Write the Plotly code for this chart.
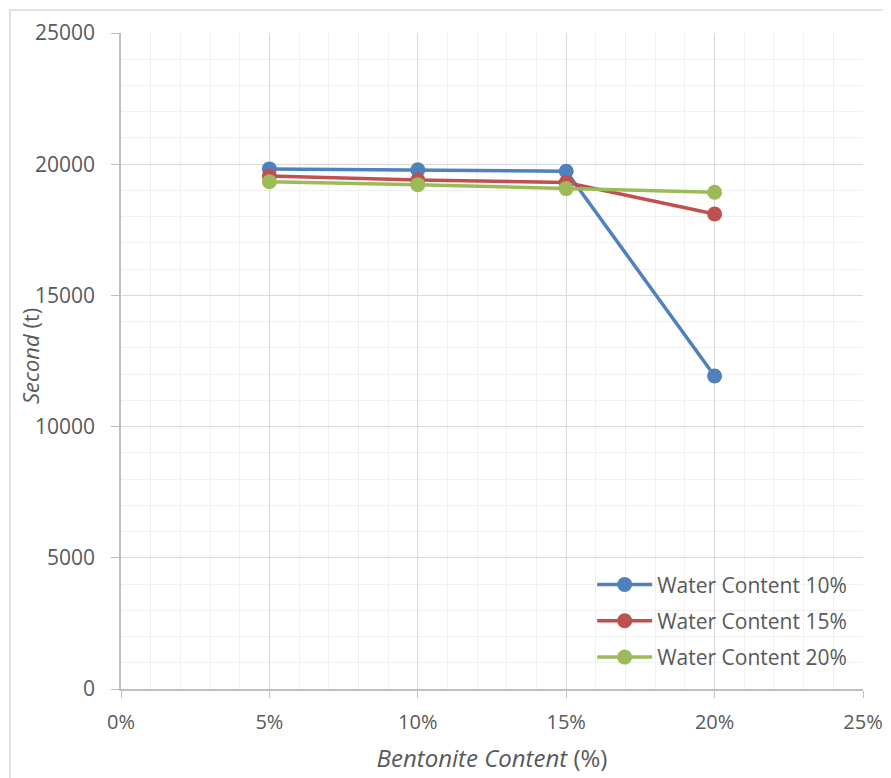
import plotly.graph_objects as go

bentonite = [5, 10, 15, 20]
series_names = ["Water Content 10%", "Water Content 15%", "Water Content 20%"]
wc10 = [19820, 19790, 19730, 11930]
wc15 = [19550, 19400, 19300, 18100]
wc20 = [19330, 19220, 19070, 18930]
colors = ["#4F81BD", "#C0504D", "#9BBB59"]
x_ticks = [0, 5, 10, 15, 20, 25]
y_ticks = [0, 5000, 10000, 15000, 20000, 25000]

font_fam = "Open Sans, Liberation Sans, sans-serif"
txt = "#595959"

fig = go.Figure()
for i, (name, vals) in enumerate(zip(series_names, [wc10, wc15, wc20])):
    fig.add_trace(go.Scatter(
        x=bentonite, y=vals, name=name, mode="lines+markers",
        line=dict(color=colors[i], width=3.5),
        marker=dict(color=colors[i], size=15),
        legendgroup=str(i),
    ))

fig.update_layout(
    width=883, height=770,
    margin=dict(l=113, r=28, t=25, b=89),
    paper_bgcolor="white", plot_bgcolor="white",
    font=dict(family=font_fam, size=20, color=txt),
    showlegend=True,
    legend=dict(x=0.635, y=0.19, xanchor="left", yanchor="top",
                bgcolor="rgba(255,255,255,0)", font=dict(size=21, color=txt),
                tracegroupgap=6, itemwidth=55),
    xaxis=dict(
        range=[0, 25], tickvals=x_ticks, ticktext=[f"{v}%" for v in x_ticks],
        showgrid=True, gridcolor="#d9d9d9", gridwidth=1,
        minor=dict(dtick=1, showgrid=True, gridcolor="#f0f0f0", gridwidth=1),
        showline=True, linecolor="#bfbfbf", linewidth=1.5,
        ticks="outside", ticklen=7, tickcolor="#bfbfbf",
        zeroline=False, ticklabelstandoff=7, automargin=False,
        tickfont=dict(size=20),
        title=dict(text="<i>Bentonite Content</i> (%)", standoff=16,
                   font=dict(size=24, color=txt)),
    ),
    yaxis=dict(
        range=[0, 25000], tickvals=y_ticks, ticktext=[str(v) for v in y_ticks],
        showgrid=True, gridcolor="#d9d9d9", gridwidth=1,
        minor=dict(dtick=1000, showgrid=True, gridcolor="#f0f0f0", gridwidth=1),
        showline=True, linecolor="#bfbfbf", linewidth=1.5,
        ticks="outside", ticklen=8, tickcolor="#bfbfbf",
        zeroline=False, ticklabelstandoff=12, automargin=False,
        tickfont=dict(size=21),
    ),
)

fig.add_annotation(text="<i>Second</i> (t)", textangle=-90,
                   xref="paper", yref="paper", x=-0.1226, y=0.5076,
                   xanchor="center", yanchor="middle", showarrow=False,
                   font=dict(size=22, color=txt))

fig.add_shape(type="rect", xref="paper", yref="paper",
              x0=-0.1496, x1=1.05, y0=-0.16, y1=1.035,
              line=dict(color="#d9d9d9", width=1.5), layer="below")

fig.write_html("out.html")
